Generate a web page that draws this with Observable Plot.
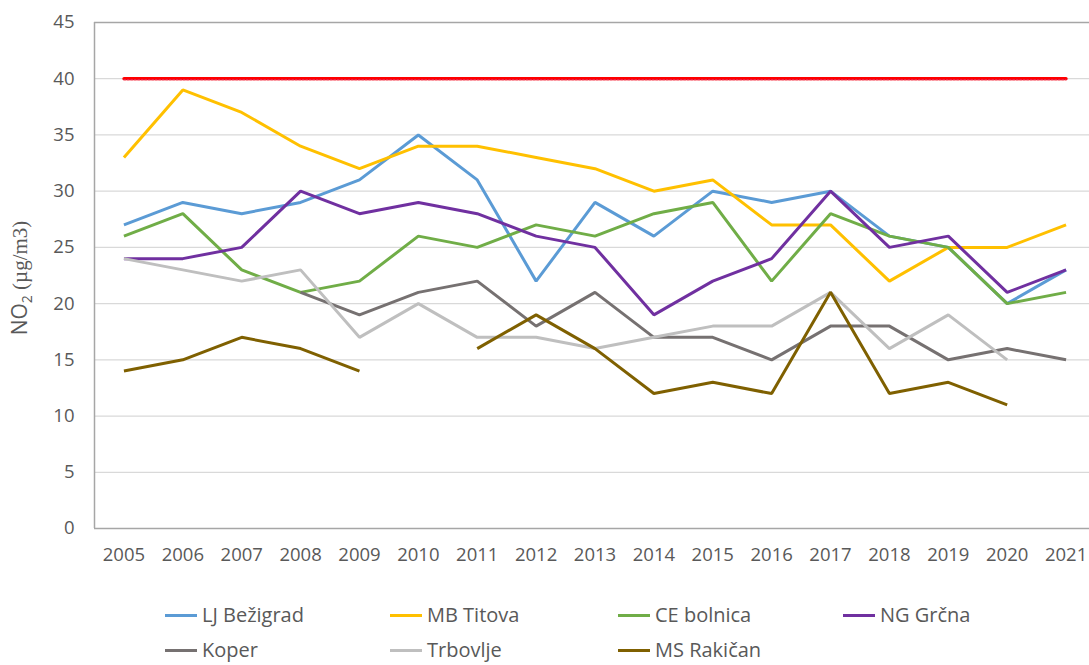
<!DOCTYPE html>
<html>
<head>
<meta charset="utf-8">
<script src="https://cdn.jsdelivr.net/npm/d3@7"></script>
<script src="https://cdn.jsdelivr.net/npm/@observablehq/plot@0.6"></script>
<style>
  html, body { margin: 0; padding: 0; background: #fff; overflow: hidden; }
  #wrap { position: relative; width: 1089px; height: 665px; overflow: hidden; }
  #legend { position: absolute; left: 0; top: 0; width: 1089px; height: 665px; pointer-events: none; }
  .item { position: absolute; display: flex; align-items: center; font-family: "Open Sans", sans-serif; font-size: 20px; line-height: 24px; color: #595959; white-space: nowrap; transform: translateY(-50%); }
  .sw { width: 32px; height: 3px; margin-right: 5px; }
</style>
</head>
<body>
<div id="wrap"><div id="chart"></div><div id="legend"></div></div>
<script>
const years = [2005,2006,2007,2008,2009,2010,2011,2012,2013,2014,2015,2016,2017,2018,2019,2020,2021];
const seriesNames = ["LJ Bežigrad","MB Titova","CE bolnica","NG Grčna","Koper","Trbovlje","MS Rakičan"];
const seriesColors = ["#5B9BD5","#FFC000","#70AD47","#7030A0","#767171","#BFBFBF","#7F6000"];
const ljBezigrad = [27,29,28,29,31,35,31,22,29,26,30,29,30,26,25,20,23];
const mbTitova   = [33,39,37,34,32,34,34,33,32,30,31,27,27,22,25,25,27];
const ceBolnica  = [26,28,23,21,22,26,25,27,26,28,29,22,28,26,25,20,21];
const ngGrcna    = [24,24,25,30,28,29,28,26,25,19,22,24,30,25,26,21,23];
const koper      = [null,null,null,21,19,21,22,18,21,17,17,15,18,18,15,16,15];
const trbovlje   = [24,23,22,23,17,20,17,17,16,17,18,18,21,16,19,15,null];
const msRakican  = [14,15,17,16,14,null,16,19,16,12,13,12,21,12,13,11,null];
const limitValue = [40,40,40,40,40,40,40,40,40,40,40,40,40,40,40,40,40];
const yTicks = [0,5,10,15,20,25,30,35,40,45];

const seriesValues = [ljBezigrad, mbTitova, ceBolnica, ngGrcna, koper, trbovlje, msRakican];
const rows = [];
seriesNames.forEach((name, i) => {
  years.forEach((yr, j) => rows.push({series: name, year: yr, value: seriesValues[i][j] == null ? NaN : seriesValues[i][j]}));
});
const limitRows = years.map((yr, j) => ({year: yr, value: limitValue[j]}));

const plot = Plot.plot({
  width: 1089,
  height: 580,
  marginTop: 22,
  marginBottom: 52,
  marginLeft: 94,
  marginRight: -6,
  style: {fontFamily: "'Open Sans', sans-serif", fontSize: "18.5px", color: "#595959", background: "#fff"},
  x: {domain: [2004.5, 2021.5], ticks: years, tickFormat: d => String(d), tickSize: 0, tickPadding: 19, label: null},
  y: {domain: [0, 45], ticks: yTicks, tickSize: 0, tickPadding: 20, label: null},
  color: {domain: seriesNames, range: seriesColors},
  marks: [
    Plot.gridY(yTicks.filter(t => t > 0 && t < 45), {stroke: "#D9D9D9", strokeOpacity: 1, strokeWidth: 1.3}),
    Plot.ruleY([0], {stroke: "#A6A6A6", strokeWidth: 1.5}),
    Plot.ruleY([45], {stroke: "#A6A6A6", strokeWidth: 1.5}),
    Plot.ruleX([2004.5], {stroke: "#A6A6A6", strokeWidth: 1.5}),
    Plot.axisX({ticks: years, tickFormat: d => String(d), tickSize: 0, tickPadding: 19, fill: "#595959"}),
    Plot.axisY({ticks: yTicks, tickSize: 0, tickPadding: 20, fill: "#595959"}),
    Plot.line(limitRows, {x: "year", y: "value", stroke: "#FF0000", strokeWidth: 3.2}),
    Plot.line(limitRows, {x: "year", y: "value", stroke: "#E8204A", strokeWidth: 1.2, strokeDasharray: "1.5,2", dy: 1}),
    Plot.line(rows, {x: "year", y: "value", z: "series", stroke: "series", strokeWidth: 3, strokeLinejoin: "miter", strokeLinecap: "butt"})
  ]
});
document.getElementById("chart").appendChild(plot);

// y-axis title with subscript
const svg = d3.select(plot);
const t = svg.append("text")
  .attr("transform", "translate(27,278) rotate(-90)")
  .attr("text-anchor", "middle")
  .attr("fill", "#595959")
  .style("font-size", "21px");
t.append("tspan").attr("font-family", "'Open Sans', sans-serif").text("NO");
t.append("tspan").attr("font-family", "'Open Sans', sans-serif").attr("font-size", "14px").attr("dy", "5").text("2");
t.append("tspan").attr("font-family", "'Liberation Serif', serif").attr("dy", "-5").text(" (µg/m3)");

// legend
const legendPos = [[165,615],[390,615],[618,615],[843,615],[165,650],[390,650],[618,650]];
const legend = document.getElementById("legend");
seriesNames.forEach((name, i) => {
  const it = document.createElement("div");
  it.className = "item";
  it.style.left = legendPos[i][0] + "px";
  it.style.top = legendPos[i][1] + "px";
  const sw = document.createElement("span");
  sw.className = "sw";
  sw.style.background = seriesColors[i];
  const tx = document.createElement("span");
  tx.textContent = name;
  it.appendChild(sw); it.appendChild(tx);
  legend.appendChild(it);
});
</script>
</body>
</html>
